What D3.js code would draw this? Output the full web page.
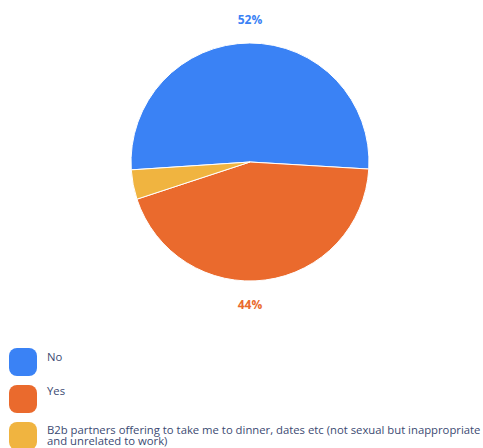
<!DOCTYPE html>
<html>
<head>
<meta charset="utf-8">
<script src="https://cdn.jsdelivr.net/npm/d3@7"></script>
<style>
  html, body { margin: 0; padding: 0; background: #fff; }
  svg { display: block; }
</style>
</head>
<body>
<svg id="chart" width="483" height="448"></svg>
<script>
// Survey answers and their shares (percent)
const categories = ["No", "Yes", "B2b partners offering to take me to dinner, dates etc (not sexual but inappropriate and unrelated to work)"];
const legendLines = [["No"], ["Yes"], ["B2b partners offering to take me to dinner, dates etc (not sexual but inappropriate", "and unrelated to work)"]];
const values = [52, 44, 4];
const valueLabels = ["52%", "44%", null];
const colors = ["#3a82f5", "#ea6a2d", "#f0b440"];

const svg = d3.select("#chart");
const cx = 250, cy = 162, radius = 119;
const font = "'Open Sans', sans-serif";

const startDeg = -93.8;
const pie = d3.pie()
  .sort(null)
  .value(d => d)
  .startAngle(startDeg * Math.PI / 180)
  .endAngle((startDeg + 360) * Math.PI / 180);
const arcs = pie(values);
const arc = d3.arc().innerRadius(0).outerRadius(radius);

const g = svg.append("g").attr("transform", `translate(${cx},${cy})`);
g.selectAll("path.slice")
  .data(arcs)
  .join("path")
  .attr("class", "slice")
  .attr("d", arc)
  .attr("fill", (d, i) => colors[i])
  .attr("stroke", "#fff")
  .attr("stroke-width", 1);

// Percentage labels above / below the pie, depending on slice direction
g.selectAll("text.pct")
  .data(arcs.filter((d, i) => valueLabels[i]))
  .join("text")
  .attr("class", "pct")
  .attr("x", 0)
  .attr("y", d => {
    const mid = (d.startAngle + d.endAngle) / 2;
    return Math.cos(mid) > 0 ? -radius - 22 : radius + 25;
  })
  .attr("text-anchor", "middle")
  .attr("dominant-baseline", "middle")
  .attr("font-family", font)
  .attr("font-size", 12)
  .attr("font-weight", 700)
  .attr("fill", d => colors[d.index])
  .text(d => valueLabels[d.index]);

// Legend: rounded swatches with wrapped labels
const swatchTop = [348, 385, 422];
const textBase = [[361], [395], [434, 445]];
const legend = svg.append("g");
categories.forEach((c, i) => {
  legend.append("rect")
    .attr("x", 9).attr("y", swatchTop[i])
    .attr("width", 28).attr("height", 28)
    .attr("rx", 8).attr("ry", 8)
    .attr("fill", colors[i]);
  const t = legend.append("text")
    .attr("font-family", font)
    .attr("font-size", 11.3)
    .attr("fill", "#3b4a72");
  legendLines[i].forEach((line, j) => {
    t.append("tspan")
      .attr("x", 47)
      .attr("y", textBase[i][j])
      .text(line);
  });
});
</script>
</body>
</html>
